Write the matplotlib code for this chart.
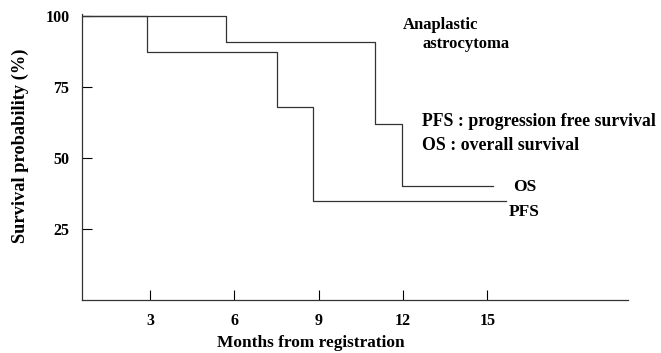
# Kaplan-Meier style survival curves
import matplotlib
matplotlib.use('Agg')
import matplotlib.pyplot as plt

plt.rcParams['font.family'] = ['Liberation Serif', 'DejaVu Serif']
plt.rcParams['font.weight'] = 'bold'

# Data
os_months = [0, 5.7, 11.0, 11.95, 15.2]
os_surv = [100, 91, 62, 40, 40]
pfs_months = [0, 2.9, 7.5, 8.8, 15.65]
pfs_surv = [100, 87.5, 68, 35, 35]

x_ticks = [3, 6, 9, 12, 15]
y_ticks = [25, 50, 75, 100]

fig = plt.figure(figsize=(6.61, 3.53), dpi=100)
ax = fig.add_axes([0.124, 0.150, 0.826, 0.810])

line_col = '#333333'
ax.step(os_months, os_surv, where='post', color=line_col, lw=0.9)
ax.step(pfs_months, pfs_surv, where='post', color=line_col, lw=0.9)

ax.set_xlim(0.58, 20.0)
ax.set_ylim(0, 100.7)
ax.set_xticks(x_ticks)
ax.set_yticks(y_ticks)
ax.tick_params(direction='in', length=7, width=0.8, labelsize=11.5, pad=9)
for lab in ax.get_xticklabels() + ax.get_yticklabels():
    lab.set_fontweight('bold')

for side in ['top', 'right']:
    ax.spines[side].set_visible(False)
for side in ['left', 'bottom']:
    ax.spines[side].set_linewidth(0.9)
    ax.spines[side].set_color(line_col)

fig.text(311 / 661, 1 - 343 / 353, 'Months from registration', ha='center', va='center',
         fontsize=12.4, fontweight='bold')
fig.text(20 / 661, 1 - 146 / 353, 'Survival probability (%)', ha='center', va='center',
         rotation=90, fontsize=13.2, fontweight='bold')

# annotations
ax.text(11.98, 96.8, 'Anaplastic', fontsize=12, fontweight='bold', va='center')
ax.text(12.69, 90.1, 'astrocytoma', fontsize=12, fontweight='bold', va='center')
ax.text(12.69, 63.0, 'PFS : progression free survival', fontsize=12.8,
        fontweight='bold', va='center')
ax.text(12.69, 54.6, 'OS : overall survival', fontsize=12.8, fontweight='bold', va='center')
ax.text(15.9, 39.8, 'OS', fontsize=12.5, fontweight='bold', va='center')
ax.text(15.75, 31.0, 'PFS', fontsize=12.5, fontweight='bold', va='center')

fig.savefig('out.png', dpi=100)
